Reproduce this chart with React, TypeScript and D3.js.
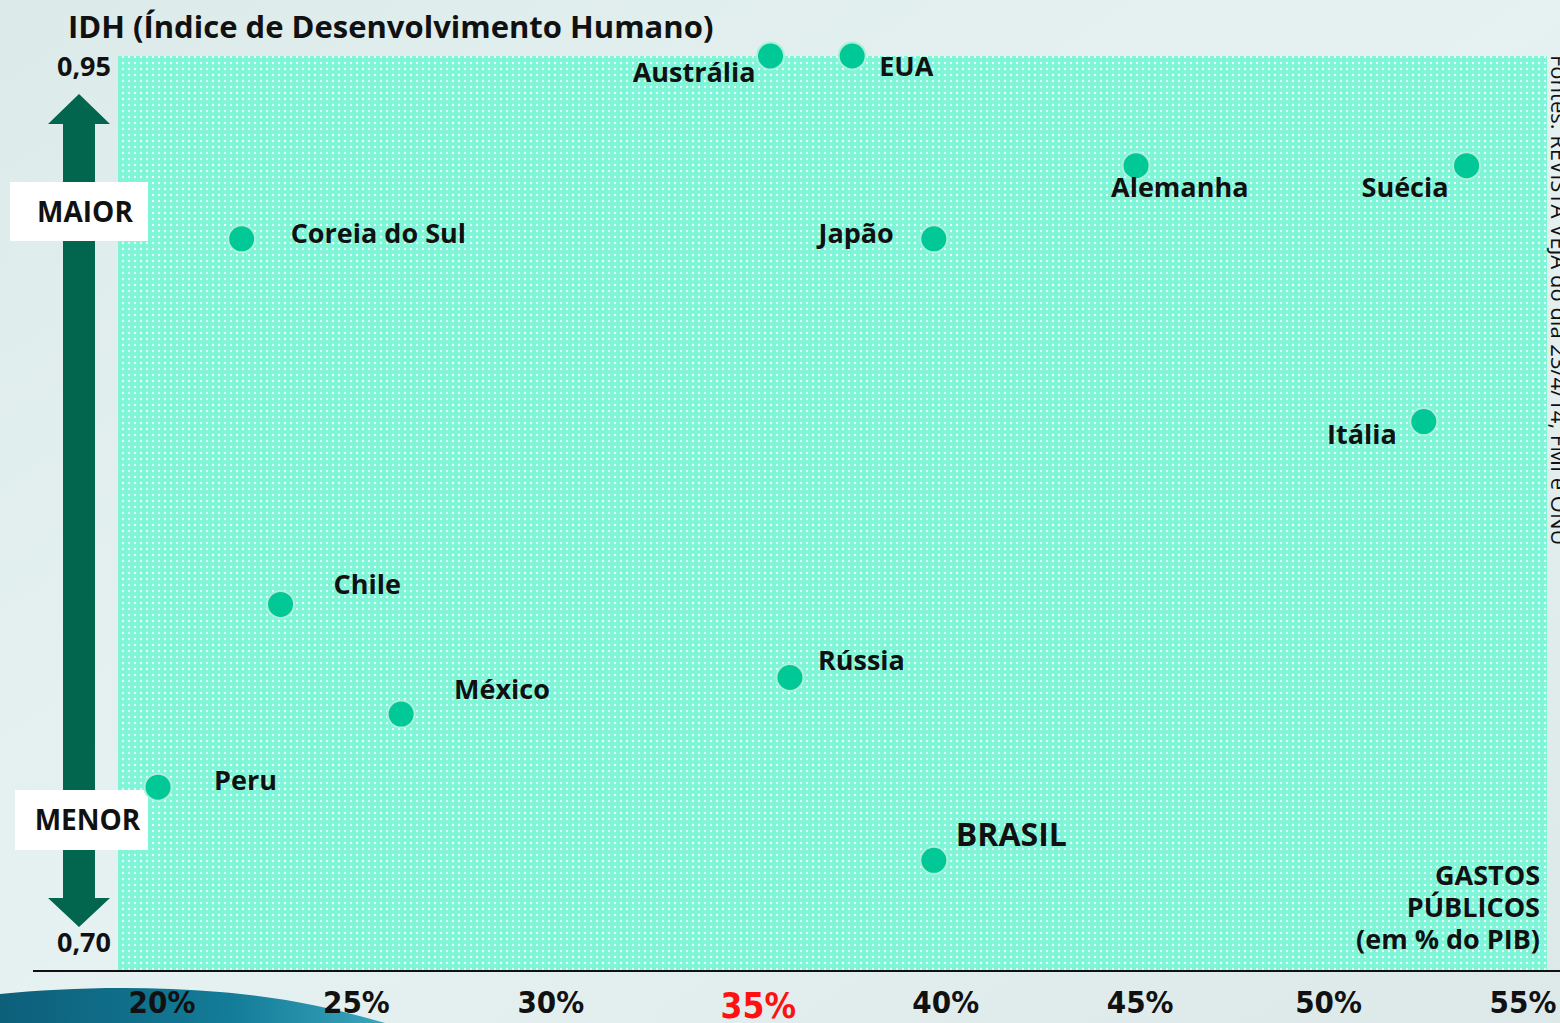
import * as d3 from "d3";
import { useEffect, useRef } from "react";

// Gasto público (% do PIB) x IDH
const countries = [
  "Austrália",
  "EUA",
  "Alemanha",
  "Suécia",
  "Coreia do Sul",
  "Japão",
  "Itália",
  "Chile",
  "Rússia",
  "México",
  "Peru",
  "BRASIL",
];
const spending = [35.7, 37.8, 45.1, 53.6, 22.1, 39.9, 52.5, 23.1, 36.2, 26.2, 19.95, 39.9];
const hdi = [0.95, 0.95, 0.92, 0.92, 0.9, 0.9, 0.85, 0.8, 0.78, 0.77, 0.75, 0.73];

const xTicks = [20, 25, 30, 35, 40, 45, 50, 55];
const yTicks = [0.7, 0.95];

// label placement relative to each dot
const labelPos: Record<string, { dx: number; dy: number; anchor: string }> = {
  Austrália: { dx: -15, dy: 26, anchor: "end" },
  EUA: { dx: 27, dy: 20, anchor: "start" },
  Alemanha: { dx: -25, dy: 31, anchor: "start" },
  Suécia: { dx: -18, dy: 31, anchor: "end" },
  "Coreia do Sul": { dx: 49, dy: 4, anchor: "start" },
  Japão: { dx: -40, dy: 4, anchor: "end" },
  Itália: { dx: -27, dy: 22, anchor: "end" },
  Chile: { dx: 53, dy: -10, anchor: "start" },
  Rússia: { dx: 28, dy: -8, anchor: "start" },
  México: { dx: 53, dy: -15, anchor: "start" },
  Peru: { dx: 56, dy: 3, anchor: "start" },
  BRASIL: { dx: 22, dy: -14, anchor: "start" },
};

const W = 1560;
const H = 1023;
const FONT = "'Open Sans', 'Noto Sans', sans-serif";
const NARROW = "'Liberation Sans Narrow', 'DejaVu Sans Condensed', sans-serif";

const App = () => {
  const svgRef = useRef<SVGSVGElement>(null);

  useEffect(() => {
    const svgEl = svgRef.current;
    if (!svgEl) return;
    const svg = d3.select(svgEl);
    svg.selectAll("*").remove();

    const x = d3.scaleLinear().domain([20, 55]).range([160, 1521]);
    const y = d3.scaleLinear().domain([0.7, 0.95]).range([970, 56]);
    const plot = { left: 118, right: 1547 };

    const defs = svg.append("defs");
    const bg = defs
      .append("linearGradient")
      .attr("id", "bg")
      .attr("x1", "0")
      .attr("x2", "1")
      .attr("y1", "0")
      .attr("y2", "1");
    bg.append("stop").attr("offset", "0").attr("stop-color", "#dcebea");
    bg.append("stop").attr("offset", "0.5").attr("stop-color", "#e6f2f1");
    bg.append("stop").attr("offset", "1").attr("stop-color", "#dde9e8");

    const pat = defs
      .append("pattern")
      .attr("id", "dots")
      .attr("width", 6)
      .attr("height", 6)
      .attr("patternUnits", "userSpaceOnUse");
    pat.append("rect").attr("width", 6).attr("height", 6).attr("fill", "#7ff5d8");
    pat
      .append("circle")
      .attr("cx", 3)
      .attr("cy", 3)
      .attr("r", 1.2)
      .attr("fill", "#ffffff")
      .attr("fill-opacity", 0.8);

    const sw = defs
      .append("linearGradient")
      .attr("id", "swoosh")
      .attr("x1", "0")
      .attr("x2", "1")
      .attr("y1", "0")
      .attr("y2", "0");
    sw.append("stop").attr("offset", "0").attr("stop-color", "#0d5f7a");
    sw.append("stop").attr("offset", "0.6").attr("stop-color", "#137c98");
    sw.append("stop").attr("offset", "1").attr("stop-color", "#3aa5bd");

    svg.append("rect").attr("width", W).attr("height", H).attr("fill", "url(#bg)");

    // decorative wave, bottom-left
    svg
      .append("path")
      .attr("d", "M0,994 C60,988 140,985 220,992 C290,998 340,1010 385,1023 L0,1023 Z")
      .attr("fill", "url(#swoosh)");

    // plot area
    svg
      .append("rect")
      .attr("x", plot.left)
      .attr("y", y(0.95))
      .attr("width", plot.right - plot.left)
      .attr("height", y(0.7) - y(0.95))
      .attr("fill", "url(#dots)");

    // baseline
    svg
      .append("line")
      .attr("x1", 33)
      .attr("x2", W)
      .attr("y1", y(0.7) + 1)
      .attr("y2", y(0.7) + 1)
      .attr("stroke", "#111")
      .attr("stroke-width", 2);

    // title
    svg
      .append("text")
      .attr("x", 68)
      .attr("y", 38)
      .style("font", `bold 31px ${FONT}`)
      .attr("fill", "#111")
      .text("IDH (Índice de Desenvolvimento Humano)");

    // y extremes
    svg
      .selectAll("text.ytick")
      .data(yTicks)
      .enter()
      .append("text")
      .attr("x", 111)
      .attr("y", (t) => (t === 0.95 ? y(t) + 20 : y(t) - 18))
      .attr("text-anchor", "end")
      .style("font", `bold 27px ${FONT}`)
      .attr("fill", "#111")
      .text((t) => d3.format(".2f")(t).replace(".", ","));

    // arrow
    const ac = 79;
    svg
      .append("path")
      .attr(
        "d",
        `M${ac},94 L${ac + 31},124 L${ac + 16},124 L${ac + 16},898 L${ac + 31},898 L${ac},927 L${ac - 31},898 L${ac - 16},898 L${ac - 16},124 L${ac - 31},124 Z`,
      )
      .attr("fill", "#02664f");

    // MAIOR / MENOR boxes
    const boxes = [
      { t: "MAIOR", x: 10, y: 182, w: 138, h: 59 },
      { t: "MENOR", x: 15, y: 790, w: 133, h: 60 },
    ];
    boxes.forEach((b) => {
      svg
        .append("rect")
        .attr("x", b.x)
        .attr("y", b.y)
        .attr("width", b.w)
        .attr("height", b.h)
        .attr("fill", "#fff");
      svg
        .append("text")
        .attr("x", b.x + b.w / 2 + 6)
        .attr("y", b.y + b.h / 2 + 10)
        .attr("text-anchor", "middle")
        .style("font", `bold 28px ${FONT}`)
        .attr("fill", "#111")
        .text(b.t);
    });

    // x tick labels (the red 35% sits a little right of its tick, as drawn)
    svg
      .selectAll("text.xtick")
      .data(xTicks)
      .enter()
      .append("text")
      .attr("x", (t) => x(t) + (t === 35 ? 15 : t === 40 || t === 45 ? 8 : 2))
      .attr("y", (t) => (t === 35 ? 1018 : 1013))
      .attr("text-anchor", "middle")
      .style("font", (t) => `bold ${t === 35 ? 35 : 31}px ${NARROW}`)
      .attr("fill", (t) => (t === 35 ? "#ff1111" : "#111"))
      .text((t) => `${t}%`);

    // x axis title
    ["GASTOS", "PÚBLICOS", "(em % do PIB)"].forEach((line, i) => {
      svg
        .append("text")
        .attr("x", 1540)
        .attr("y", 885 + i * 32)
        .attr("text-anchor", "end")
        .style("font", `bold 27px ${FONT}`)
        .attr("fill", "#111")
        .text(line);
    });

    // source, rotated and partly off the right edge
    svg
      .append("text")
      .attr("transform", `translate(1551,55) rotate(90)`)
      .style("font", `22px ${FONT}`)
      .attr("fill", "#111")
      .text("Fontes: REVISTA VEJA do dia 23/4/14, FMI e ONU");

    const data = countries.map((c, i) => ({ c, x: spending[i], y: hdi[i] }));

    svg
      .selectAll("circle.dot")
      .data(data)
      .enter()
      .append("circle")
      .attr("cx", (d) => x(d.x))
      .attr("cy", (d) => y(d.y))
      .attr("r", 13.5)
      .attr("fill", "#00c896")
      .attr("stroke", "#a9f1da")
      .attr("stroke-width", 2);

    svg
      .selectAll("text.dot-label")
      .data(data)
      .enter()
      .append("text")
      .attr("x", (d) => x(d.x) + labelPos[d.c].dx)
      .attr("y", (d) => y(d.y) + labelPos[d.c].dy)
      .attr("text-anchor", (d) => labelPos[d.c].anchor)
      .style("font", (d) => `bold ${d.c === "BRASIL" ? 32 : 27}px ${FONT}`)
      .attr("fill", "#111")
      .text((d) => d.c);
  }, []);

  return (
    <div style={{ position: "absolute", left: 0, top: 0, width: W, height: H, overflow: "hidden" }}>
      <svg ref={svgRef} width={W} height={H} />
    </div>
  );
};

export default App;
